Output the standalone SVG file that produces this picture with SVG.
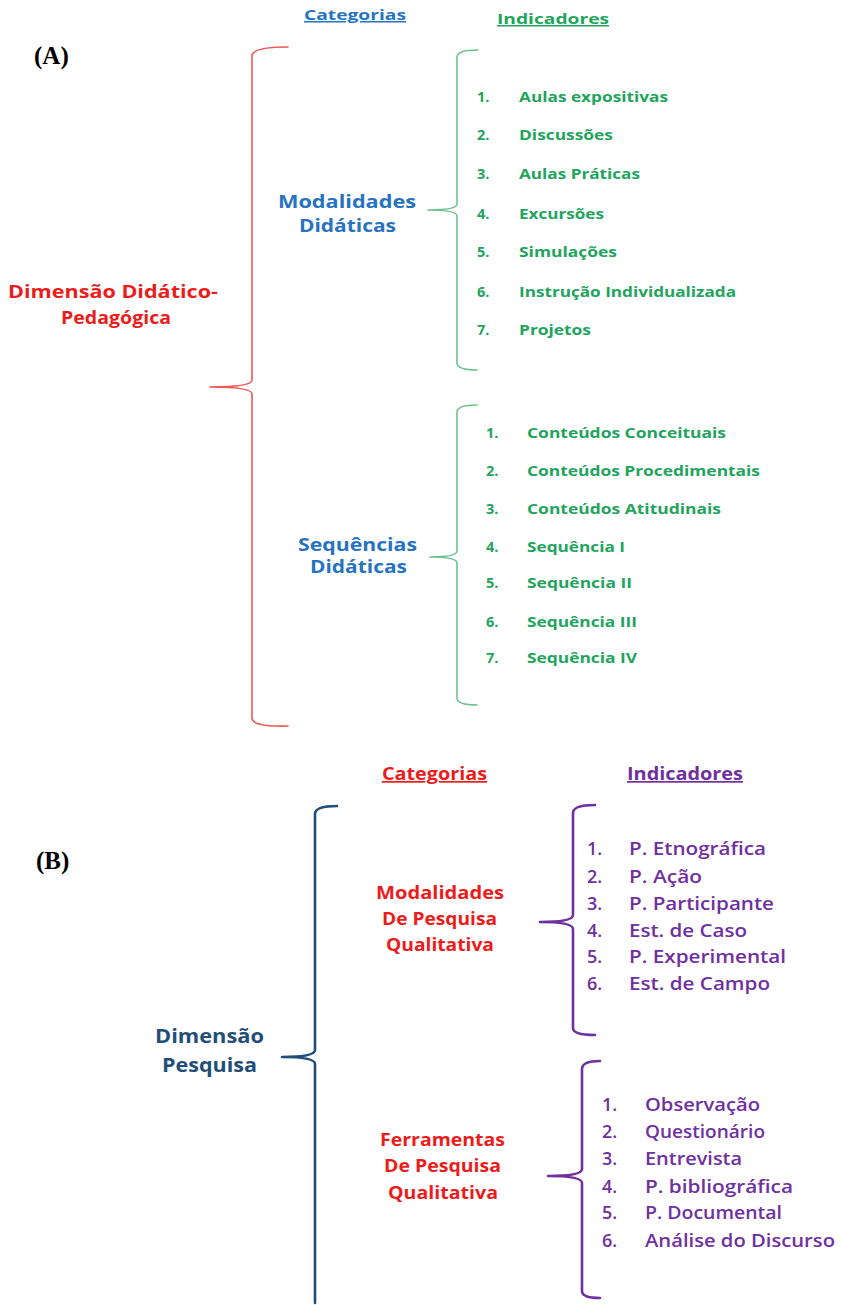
<svg xmlns="http://www.w3.org/2000/svg" width="841" height="1305" viewBox="0 0 841 1305">
<style>
text{font-family:"Open Sans","Noto Sans","DejaVu Sans",sans-serif;font-weight:700}
.lbl{font-family:"Liberation Serif","DejaVu Serif",serif;font-size:25px;fill:#000}
.blue{fill:#2673c0}
.green{fill:#22a45c;font-size:14.5px}
.red{fill:#ec1c1c}
.navy{fill:#1f4e79}
.purple{fill:#7030a0;font-size:18px;font-weight:600}
.u{text-decoration:underline}
.br{fill:none;stroke-linecap:round;stroke-linejoin:round}
</style>
<rect width="841" height="1305" fill="#fff"/>

<text class="lbl" x="34" y="64">(A)</text>
<text class="lbl" x="36" y="869">(B)</text>

<g id="connectors">
<path class="br" stroke="#ee5858" stroke-width="1.6" d="M288,47 Q252,47 252,56 V380 Q252,387 210,387 Q252,387 252,394 V718 Q252,727 288,726"/>
<path class="br" stroke="#6cc28f" stroke-width="1.6" d="M478,50 Q457,50 457,57 V204 Q457,210 428,210 Q457,210 457,216 V363 Q457,370 477,370"/>
<path class="br" stroke="#6cc28f" stroke-width="1.6" d="M477,405 Q457,405 457,412 V551 Q457,557 430,557 Q457,557 457,563 V698 Q457,705 477,705"/>
<path class="br" stroke="#1f4e79" stroke-width="2.6" d="M337,806 Q315,806 315,814 V1050 Q315,1057 282,1057 Q315,1057 315,1064 V1303"/>
<path class="br" stroke="#7030a0" stroke-width="2.6" d="M595,805 Q573,805 573,813 V915 Q573,922 540,922 Q573,922 573,929 V1028 Q573,1035 595,1035"/>
<path class="br" stroke="#7030a0" stroke-width="2.6" d="M600,1061 Q582,1061 582,1069 V1169 Q582,1176 548,1176 Q582,1176 582,1183 V1291 Q582,1298 600,1298"/>
</g>

<g id="header-a">
<text class="blue u" x="304" y="20" font-size="15" textLength="102" lengthAdjust="spacingAndGlyphs">Categorias</text>
<text class="u" x="497" y="24" font-size="15" fill="#22a45c" textLength="112" lengthAdjust="spacingAndGlyphs">Indicadores</text>
</g>

<g id="dim-didatico">
<text class="red" x="8" y="298" font-size="17" textLength="210" lengthAdjust="spacingAndGlyphs">Dimensão Didático-</text>
<text class="red" x="61" y="324" font-size="17" textLength="110" lengthAdjust="spacingAndGlyphs">Pedagógica</text>
</g>

<g id="modalidades-didaticas">
<text class="blue" x="278" y="208" font-size="17" textLength="138" lengthAdjust="spacingAndGlyphs">Modalidades</text>
<text class="blue" x="299" y="232" font-size="17" textLength="97" lengthAdjust="spacingAndGlyphs">Didáticas</text>
</g>

<g id="ind-modalidades">
<text class="green" x="477" y="102">1.</text><text class="green" x="519" y="102" textLength="149" lengthAdjust="spacingAndGlyphs">Aulas expositivas</text>
<text class="green" x="477" y="140">2.</text><text class="green" x="519" y="140" textLength="94" lengthAdjust="spacingAndGlyphs">Discussões</text>
<text class="green" x="477" y="179">3.</text><text class="green" x="519" y="179" textLength="121" lengthAdjust="spacingAndGlyphs">Aulas Práticas</text>
<text class="green" x="477" y="219">4.</text><text class="green" x="519" y="219" textLength="85" lengthAdjust="spacingAndGlyphs">Excursões</text>
<text class="green" x="477" y="257">5.</text><text class="green" x="519" y="257" textLength="98" lengthAdjust="spacingAndGlyphs">Simulações</text>
<text class="green" x="477" y="297">6.</text><text class="green" x="519" y="297" textLength="217" lengthAdjust="spacingAndGlyphs">Instrução Individualizada</text>
<text class="green" x="477" y="335">7.</text><text class="green" x="519" y="335" textLength="72" lengthAdjust="spacingAndGlyphs">Projetos</text>
</g>

<g id="sequencias-didaticas">
<text class="blue" x="298" y="551" font-size="17" textLength="119" lengthAdjust="spacingAndGlyphs">Sequências</text>
<text class="blue" x="310" y="573" font-size="17" textLength="97" lengthAdjust="spacingAndGlyphs">Didáticas</text>
</g>

<g id="ind-sequencias">
<text class="green" x="486" y="438">1.</text><text class="green" x="527" y="438" textLength="199" lengthAdjust="spacingAndGlyphs">Conteúdos Conceituais</text>
<text class="green" x="486" y="476">2.</text><text class="green" x="527" y="476" textLength="233" lengthAdjust="spacingAndGlyphs">Conteúdos Procedimentais</text>
<text class="green" x="486" y="514">3.</text><text class="green" x="527" y="514" textLength="194" lengthAdjust="spacingAndGlyphs">Conteúdos Atitudinais</text>
<text class="green" x="486" y="552">4.</text><text class="green" x="527" y="552" textLength="98" lengthAdjust="spacingAndGlyphs">Sequência I</text>
<text class="green" x="486" y="588">5.</text><text class="green" x="527" y="588" textLength="105" lengthAdjust="spacingAndGlyphs">Sequência II</text>
<text class="green" x="486" y="627">6.</text><text class="green" x="527" y="627" textLength="110" lengthAdjust="spacingAndGlyphs">Sequência III</text>
<text class="green" x="486" y="663">7.</text><text class="green" x="527" y="663" textLength="110" lengthAdjust="spacingAndGlyphs">Sequência IV</text>
</g>

<g id="header-b">
<text class="red u" x="382" y="780" font-size="17" font-weight="600" textLength="105" lengthAdjust="spacingAndGlyphs">Categorias</text>
<text class="u" x="627" y="780" font-size="17" font-weight="600" fill="#7030a0" textLength="116" lengthAdjust="spacingAndGlyphs">Indicadores</text>
</g>

<g id="dim-pesquisa">
<text class="navy" x="155" y="1043" font-size="19" font-weight="600" textLength="109" lengthAdjust="spacingAndGlyphs">Dimensão</text>
<text class="navy" x="162" y="1072" font-size="19" font-weight="600" textLength="95" lengthAdjust="spacingAndGlyphs">Pesquisa</text>
</g>

<g id="modalidades-pesquisa">
<text class="red" x="376" y="899" font-size="17" font-weight="600" textLength="128" lengthAdjust="spacingAndGlyphs">Modalidades</text>
<text class="red" x="382" y="925" font-size="17" font-weight="600" textLength="115" lengthAdjust="spacingAndGlyphs">De Pesquisa</text>
<text class="red" x="386" y="951" font-size="17" font-weight="600" textLength="108" lengthAdjust="spacingAndGlyphs">Qualitativa</text>
</g>

<g id="ind-modalidades-pesquisa">
<text class="purple" x="587" y="855">1.</text><text class="purple" x="629" y="855" textLength="137" lengthAdjust="spacingAndGlyphs">P. Etnográfica</text>
<text class="purple" x="587" y="883">2.</text><text class="purple" x="629" y="883" textLength="73" lengthAdjust="spacingAndGlyphs">P. Ação</text>
<text class="purple" x="587" y="910">3.</text><text class="purple" x="629" y="910" textLength="145" lengthAdjust="spacingAndGlyphs">P. Participante</text>
<text class="purple" x="587" y="937">4.</text><text class="purple" x="629" y="937" textLength="118" lengthAdjust="spacingAndGlyphs">Est. de Caso</text>
<text class="purple" x="587" y="963">5.</text><text class="purple" x="629" y="963" textLength="157" lengthAdjust="spacingAndGlyphs">P. Experimental</text>
<text class="purple" x="587" y="990">6.</text><text class="purple" x="629" y="990" textLength="141" lengthAdjust="spacingAndGlyphs">Est. de Campo</text>
</g>

<g id="ferramentas-pesquisa">
<text class="red" x="380" y="1146" font-size="17" font-weight="600" textLength="125" lengthAdjust="spacingAndGlyphs">Ferramentas</text>
<text class="red" x="384" y="1172" font-size="17" font-weight="600" textLength="117" lengthAdjust="spacingAndGlyphs">De Pesquisa</text>
<text class="red" x="388" y="1199" font-size="17" font-weight="600" textLength="110" lengthAdjust="spacingAndGlyphs">Qualitativa</text>
</g>

<g id="ind-ferramentas">
<text class="purple" x="602" y="1111">1.</text><text class="purple" x="645" y="1111" textLength="115" lengthAdjust="spacingAndGlyphs">Observação</text>
<text class="purple" x="602" y="1138">2.</text><text class="purple" x="645" y="1138" textLength="120" lengthAdjust="spacingAndGlyphs">Questionário</text>
<text class="purple" x="602" y="1165">3.</text><text class="purple" x="645" y="1165" textLength="97" lengthAdjust="spacingAndGlyphs">Entrevista</text>
<text class="purple" x="602" y="1193">4.</text><text class="purple" x="645" y="1193" textLength="148" lengthAdjust="spacingAndGlyphs">P. bibliográfica</text>
<text class="purple" x="602" y="1219">5.</text><text class="purple" x="645" y="1219" textLength="137" lengthAdjust="spacingAndGlyphs">P. Documental</text>
<text class="purple" x="602" y="1247">6.</text><text class="purple" x="645" y="1247" textLength="190" lengthAdjust="spacingAndGlyphs">Análise do Discurso</text>
</g>
</svg>
